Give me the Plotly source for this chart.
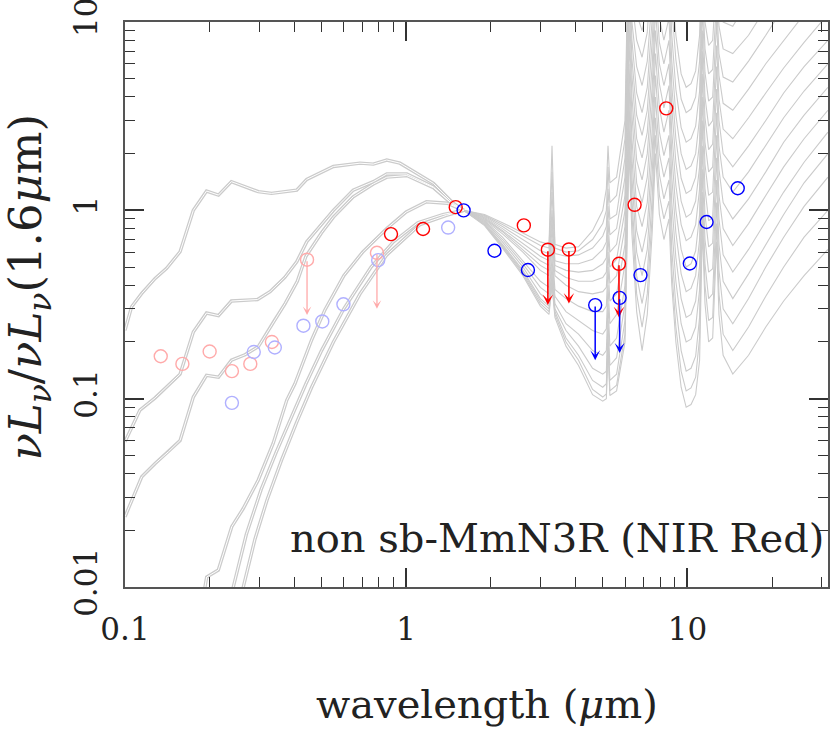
import math
import plotly.graph_objects as go

# ---------------- stellar (UV-NIR) template shapes, normalised at 1.6 um ----------------
u1_wl = [0.1, 0.1056, 0.1147, 0.128, 0.1406, 0.157, 0.175, 0.195, 0.215, 0.239, 0.298, 0.332,
         0.408, 0.443, 0.551, 0.685, 0.764, 0.853, 0.95, 1.25, 1.47, 1.6]
u1_f = [0.231, 0.308, 0.362, 0.435, 0.492, 0.603, 1.0, 1.266, 1.205, 1.42, 1.256, 1.23,
        1.28, 1.46, 1.71, 1.78, 1.76, 1.85, 1.78, 1.39, 1.09, 1.0]

u2_wl = [0.1, 0.113, 0.128, 0.157, 0.175, 0.195, 0.215, 0.239, 0.296, 0.328, 0.37, 0.408,
         0.443, 0.551, 0.648, 0.764, 0.853, 1.005, 1.25, 1.47, 1.6]
u2_f = [0.059, 0.087, 0.101, 0.135, 0.226, 0.285, 0.276, 0.33, 0.336, 0.37, 0.44, 0.533,
        0.681, 1.0, 1.28, 1.42, 1.56, 1.56, 1.33, 1.07, 1.0]

u3_wl = [0.1, 0.1147, 0.128, 0.1426, 0.157, 0.175, 0.195, 0.215, 0.239, 0.267, 0.298, 0.34,
         0.371, 0.41, 0.44, 0.5, 0.551, 0.648, 0.764, 0.853, 1.005, 1.25, 1.47, 1.6]
u3_f = [0.0236, 0.0385, 0.0453, 0.0522, 0.06, 0.102, 0.133, 0.13, 0.16, 0.171, 0.189, 0.26,
        0.32, 0.42, 0.57, 0.76, 0.92, 1.18, 1.38, 1.5, 1.53, 1.32, 1.07, 1.0]

oa_wl = [0.19, 0.1925, 0.1952, 0.2147, 0.2397, 0.2633, 0.2978, 0.3366, 0.376, 0.402, 0.461,
         0.514, 0.6, 0.7, 0.853, 1.0, 1.18, 1.4, 1.6]
oa_f = [0.007, 0.01, 0.0113, 0.0123, 0.0209, 0.0261, 0.037, 0.058, 0.098, 0.12, 0.205,
        0.296, 0.45, 0.6, 0.8, 0.98, 1.11, 1.09, 1.0]

ob1_wl = [0.236, 0.2427, 0.27, 0.305, 0.345, 0.39, 0.44, 0.5, 0.6, 0.75, 0.9, 1.1, 1.35, 1.6]
ob1_f = [0.008, 0.01, 0.019, 0.033, 0.052, 0.08, 0.12, 0.18, 0.3, 0.5, 0.68, 0.86, 0.95, 1.0]

ob2_wl = [0.257, 0.2634, 0.29, 0.32, 0.36, 0.408, 0.461, 0.551, 0.685, 0.853, 1.12, 1.39, 1.6]
ob2_f = [0.008, 0.01, 0.018, 0.029, 0.047, 0.075, 0.115, 0.2, 0.36, 0.58, 0.84, 0.94, 1.0]

# ---------------- infrared template set (common wavelength grid) ----------------
ir_wl = [1.6, 1.9, 2.2, 2.6, 3.0, 3.22, 3.3, 3.38, 3.7, 4.1,
         4.6, 5.0, 5.15, 5.22, 5.3, 5.6, 6.0, 6.2, 6.35, 6.6,
         6.9, 7.2, 7.5, 7.7, 7.95, 8.25, 8.6, 8.8, 9.1, 9.5,
         9.9, 10.3, 10.7, 11.05, 11.3, 11.55, 11.9, 12.3, 12.7, 12.95,
         13.4, 14.5, 16.5, 19.0, 22.0, 26.0, 31.6]

ir_c1 = [1.0, 0.95, 0.86, 0.76, 0.68, 0.66, 2.2, 0.66, 0.63, 0.64,
         0.78, 1.0, 1.3, 2.2, 1.4, 1.5, 3.0, 40, 17, 11,
         9, 12, 26, 60, 32, 26, 35, 16, 8.5, 5.3,
         4.5, 4.7, 5.5, 8.5, 30, 14, 10.5, 11, 25, 13,
         10, 9.5, 13, 18, 25, 35, 50]
ir_c2 = [1.0, 0.94, 0.84, 0.73, 0.65, 0.63, 1.6, 0.63, 0.6, 0.61,
         0.7, 0.85, 1.0, 1.7, 1.1, 1.2, 2.4, 32, 13, 8,
         6.5, 8.8, 19, 45, 24, 19, 26, 12, 6.3, 3.9,
         3.3, 3.45, 4.0, 6.2, 22, 10, 7.5, 8, 18, 9.5,
         7.2, 6.8, 8.5, 12, 17, 25, 38]
ir_c3 = [1.0, 0.93, 0.82, 0.7, 0.61, 0.59, 1.25, 0.59, 0.57, 0.58,
         0.63, 0.73, 0.82, 1.3, 0.9, 0.95, 1.9, 25, 10, 5.8,
         4.6, 6.2, 14, 35, 18, 14, 19, 8.5, 4.4, 2.75,
         2.3, 2.4, 2.8, 4.3, 16, 7.2, 5.3, 5.6, 13, 6.8,
         5.1, 4.8, 6.2, 8.5, 12, 17, 26]
ir_c4 = [1.0, 0.92, 0.8, 0.67, 0.57, 0.54, 1.0, 0.54, 0.52, 0.52,
         0.55, 0.62, 0.68, 1.05, 0.74, 0.8, 1.5, 20, 8, 4.2,
         3.3, 4.5, 10.5, 26, 13.5, 10.5, 14, 6.2, 3.2, 2.0,
         1.65, 1.72, 2.0, 3.1, 12, 5.4, 3.8, 4.0, 10, 5.2,
         3.7, 3.4, 4.4, 6, 8, 11, 16]
ir_c5 = [1.0, 0.91, 0.78, 0.64, 0.54, 0.51, 0.9, 0.51, 0.48, 0.47,
         0.48, 0.52, 0.56, 0.88, 0.6, 0.66, 1.2, 16, 6.4, 3.2,
         2.5, 3.4, 8, 20, 10.5, 8, 10.5, 4.6, 2.4, 1.48,
         1.23, 1.28, 1.5, 2.3, 9, 4, 2.8, 3.0, 7.5, 3.9,
         2.7, 2.4, 3.1, 4.2, 5.7, 7.8, 11]
ir_c6 = [1.0, 0.9, 0.77, 0.62, 0.51, 0.48, 0.8, 0.48, 0.44, 0.42,
         0.42, 0.44, 0.47, 0.74, 0.5, 0.55, 1.0, 13, 5.2, 2.4,
         1.9, 2.6, 6, 15, 7.8, 6, 8, 3.5, 1.8, 1.12,
         0.92, 0.96, 1.12, 1.7, 7, 3.1, 2.1, 2.25, 5.8, 3.0,
         2.0, 1.7, 2.2, 3.0, 4.2, 5.8, 8]
ir_c7 = [1.0, 0.89, 0.75, 0.6, 0.48, 0.45, 0.7, 0.45, 0.4, 0.37,
         0.36, 0.37, 0.39, 0.6, 0.41, 0.45, 0.82, 10, 4, 1.85,
         1.45, 2.0, 4.6, 11.5, 6, 4.6, 6, 2.6, 1.35, 0.84,
         0.69, 0.72, 0.84, 1.3, 5.3, 2.3, 1.6, 1.7, 4.4, 2.2,
         1.5, 1.25, 1.6, 2.2, 3.1, 4.3, 6]
ir_c8 = [1.0, 0.88, 0.72, 0.54, 0.42, 0.39, 0.62, 0.38, 0.34, 0.31,
         0.29, 0.29, 0.31, 0.5, 0.33, 0.36, 0.66, 8, 3.2, 1.4,
         1.1, 1.5, 3.6, 9, 4.7, 3.5, 4.6, 2.0, 1.0, 0.62,
         0.5, 0.52, 0.61, 0.95, 4, 1.75, 1.2, 1.25, 3.3, 1.65,
         1.1, 0.9, 1.15, 1.6, 2.3, 3.2, 4.5]
ir_c9 = [1.0, 0.87, 0.7, 0.52, 0.39, 0.36, 0.55, 0.35, 0.29, 0.26,
         0.23, 0.22, 0.235, 0.4, 0.25, 0.28, 0.52, 6, 2.4, 1.05,
         0.82, 1.1, 2.7, 6.8, 3.5, 2.6, 3.4, 1.5, 0.76, 0.46,
         0.37, 0.385, 0.45, 0.7, 3.0, 1.3, 0.88, 0.92, 2.5, 1.2,
         0.8, 0.65, 0.85, 1.2, 1.7, 2.4, 3.4]
ir_c10 = [1.0, 0.86, 0.68, 0.5, 0.36, 0.33, 0.5, 0.32, 0.25, 0.22,
          0.18, 0.17, 0.18, 0.32, 0.19, 0.21, 0.4, 4.8, 1.9, 0.78,
          0.6, 0.82, 2.05, 5.2, 2.6, 1.95, 2.5, 1.1, 0.56, 0.34,
          0.27, 0.28, 0.33, 0.51, 2.2, 0.95, 0.64, 0.67, 1.9, 0.9,
          0.58, 0.47, 0.62, 0.88, 1.25, 1.8, 2.6]
ir_c11 = [1.0, 0.85, 0.66, 0.48, 0.34, 0.31, 0.46, 0.3, 0.23, 0.19,
          0.145, 0.135, 0.14, 0.26, 0.15, 0.165, 0.32, 3.8, 1.5, 0.6,
          0.45, 0.62, 1.6, 4.0, 2.0, 1.5, 1.9, 0.82, 0.42, 0.25,
          0.2, 0.207, 0.24, 0.38, 1.65, 0.7, 0.47, 0.49, 1.45, 0.66,
          0.42, 0.34, 0.46, 0.66, 0.95, 1.4, 2.0]
ir_c12 = [1.0, 0.84, 0.65, 0.47, 0.33, 0.3, 0.43, 0.29, 0.21, 0.17,
          0.125, 0.115, 0.12, 0.22, 0.125, 0.135, 0.26, 3.0, 1.15, 0.45,
          0.32, 0.46, 1.2, 3.1, 1.55, 1.15, 1.45, 0.62, 0.31, 0.18,
          0.14, 0.145, 0.168, 0.27, 1.25, 0.52, 0.34, 0.36, 1.1, 0.48,
          0.3, 0.25, 0.34, 0.5, 0.72, 1.05, 1.5]
ir_c13 = [1.0, 0.84, 0.64, 0.46, 0.32, 0.29, 0.41, 0.28, 0.2, 0.16,
          0.112, 0.102, 0.106, 0.2, 0.11, 0.118, 0.22, 2.5, 0.95, 0.36,
          0.24, 0.36, 0.95, 2.5, 1.2, 0.9, 1.12, 0.48, 0.24, 0.14,
          0.11, 0.114, 0.13, 0.21, 1.0, 0.4, 0.26, 0.27, 0.85, 0.36,
          0.22, 0.18, 0.24, 0.35, 0.5, 0.72, 1.0]
ir_c14 = [1.0, 0.83, 0.63, 0.45, 0.31, 0.28, 0.4, 0.27, 0.19, 0.15,
          0.105, 0.097, 0.1, 0.19, 0.104, 0.11, 0.2, 2.1, 0.75, 0.29,
          0.18, 0.28, 0.78, 2.0, 0.95, 0.7, 0.9, 0.4, 0.2, 0.115,
          0.09, 0.093, 0.105, 0.16, 0.8, 0.32, 0.2, 0.21, 0.68, 0.28,
          0.17, 0.135, 0.17, 0.24, 0.33, 0.45, 0.62]

# ---------------- photometry ----------------
pink_x = [0.134, 0.16, 0.2, 0.24, 0.279, 0.333, 0.444, 0.787]
pink_y = [0.168, 0.153, 0.178, 0.14, 0.153, 0.2, 0.547, 0.595]
pink_lim_x = [0.444, 0.787]
pink_lim_top = [0.547, 0.595]
pink_lim_tip = [0.278, 0.30]

lblue_x = [0.24, 0.287, 0.341, 0.431, 0.503, 0.598, 0.795, 1.41]
lblue_y = [0.095, 0.177, 0.187, 0.244, 0.257, 0.317, 0.544, 0.81]

red_x = [0.883, 1.148, 1.5, 2.62, 3.19, 3.79, 5.71, 6.49, 8.41]
red_y = [0.748, 0.796, 1.04, 0.832, 0.618, 0.62, 0.52, 1.07, 3.48]
red_lim_x = [3.19, 3.79, 5.71]
red_lim_top = [0.618, 0.62, 0.52]
red_lim_tip = [0.314, 0.32, 0.27]

blue_x = [1.6, 2.06, 2.71, 4.70, 5.74, 6.81, 10.2, 11.7, 15.1]
blue_y = [1.0, 0.61, 0.482, 0.314, 0.343, 0.453, 0.522, 0.867, 1.31]
blue_lim_x = [4.70, 5.74]
blue_lim_top = [0.314, 0.343]
blue_lim_tip = [0.160, 0.175]

x_tick_vals = [0.1, 1, 10]
x_tick_text = ["0.1", "1", "10"]
y_tick_vals = [0.01, 0.1, 1, 10]
y_tick_text = ["0.01", "0.1", "1", "10"]

label_text = "non sb-MmN3R (NIR Red)"

# ---------------- figure ----------------
GRAY = "#cbcbcb"
FONT = "DejaVu Serif"
fig = go.Figure()

ir_curves = [ir_c1, ir_c2, ir_c3, ir_c4, ir_c5, ir_c6, ir_c7, ir_c8, ir_c9, ir_c10,
             ir_c11, ir_c12, ir_c13, ir_c14]
for c in ir_curves:
    fig.add_trace(go.Scatter(x=ir_wl, y=c, mode="lines",
                             line=dict(color=GRAY, width=1.1), hoverinfo="skip"))

stellar = [(u1_wl, u1_f), (u2_wl, u2_f), (u3_wl, u3_f), (oa_wl, oa_f),
           (ob1_wl, ob1_f), (ob2_wl, ob2_f)]
for wl, f in stellar:
    fig.add_trace(go.Scatter(x=wl, y=f, mode="lines",
                             line=dict(color=GRAY, width=3.4), hoverinfo="skip"))
for wl, f in stellar:
    fig.add_trace(go.Scatter(x=wl, y=f, mode="lines",
                             line=dict(color="white", width=1.0), hoverinfo="skip"))

def pts(x, y, col):
    fig.add_trace(go.Scatter(x=x, y=y, mode="markers",
                             marker=dict(symbol="circle-open", size=13, color=col,
                                         line=dict(width=1.4, color=col)),
                             hoverinfo="skip"))

pts(pink_x, pink_y, "#ffaaaa")
pts(lblue_x, lblue_y, "#b0b0ff")
pts(red_x, red_y, "#ff0000")
pts(blue_x, blue_y, "#0000ff")

annots = []
def arrows(xs, tops, tips, col, w):
    for x, t, b in zip(xs, tops, tips):
        annots.append(dict(x=math.log10(x), y=math.log10(b), ax=math.log10(x), ay=math.log10(t),
                           xref="x", yref="y", axref="x", ayref="y", text="",
                           showarrow=True, arrowhead=3, arrowsize=1.1, arrowwidth=w,
                           arrowcolor=col, standoff=0, startstandoff=0))

arrows(pink_lim_x, pink_lim_top, pink_lim_tip, "#ffaaaa", 1.3)
arrows(red_lim_x, red_lim_top, red_lim_tip, "#ff0000", 1.6)
arrows(blue_lim_x, blue_lim_top, blue_lim_tip, "#0000ff", 1.5)

annots.append(dict(text=label_text, xref="paper", yref="paper", x=0.997, y=0.0867,
                   xanchor="right", yanchor="middle", showarrow=False,
                   font=dict(family=FONT, size=40, color="#222")))
annots.append(dict(text="wavelength (<i>μ</i>m)", xref="paper", yref="paper", x=0.515, y=0,
                   yshift=-117, xanchor="center", yanchor="middle", showarrow=False,
                   font=dict(family=FONT, size=40, color="#222")))
annots.append(dict(text="<i>νL</i><sub><i>ν</i></sub>/<i>νL</i><sub><i>ν</i></sub>(1.6<i>μ</i>m)",
                   xref="paper", yref="paper", x=0, xshift=-97, y=0.53,
                   xanchor="center", yanchor="middle", textangle=-90, showarrow=False,
                   font=dict(family=FONT, size=45, color="#222")))

x_minor = [0.2, 0.3, 0.4, 0.5, 0.6, 0.7, 0.8, 0.9, 2, 3, 4, 5, 6, 7, 8, 9, 20, 30]
y_minor = [0.02, 0.03, 0.04, 0.05, 0.06, 0.07, 0.08, 0.09, 0.2, 0.3, 0.4, 0.5, 0.6, 0.7,
           0.8, 0.9, 2, 3, 4, 5, 6, 7, 8, 9]

axis_common = dict(type="log", showgrid=False, zeroline=False, showline=True,
                   linecolor="#555", linewidth=2, mirror="ticks", ticks="inside",
                   ticklen=19, tickwidth=1.5, tickcolor="#333", automargin=False,
                   ticklabeloverflow="allow",
                   tickfont=dict(family=FONT, size=31, color="#222"))

fig.update_layout(
    width=830, height=730,
    margin=dict(l=125, r=2, t=22, b=143),
    plot_bgcolor="white", paper_bgcolor="white", showlegend=False,
    xaxis=dict(range=[-1, 1.5], tickvals=x_tick_vals, ticktext=x_tick_text,
               ticklabelstandoff=14,
               minor=dict(tickvals=x_minor, ticks="inside", ticklen=10, tickwidth=1.2,
                          tickcolor="#333"),
               **axis_common),
    yaxis=dict(range=[-2, 1], tickvals=y_tick_vals, ticktext=y_tick_text, tickangle=-90,
               ticklabelstandoff=14,
               minor=dict(tickvals=y_minor, ticks="inside", ticklen=10, tickwidth=1.2,
                          tickcolor="#333"),
               **axis_common),
    annotations=annots,
)

fig.write_html("out.html", config={"displayModeBar": False},
               post_script="document.body.style.margin='0px';document.body.style.overflow='hidden';")
